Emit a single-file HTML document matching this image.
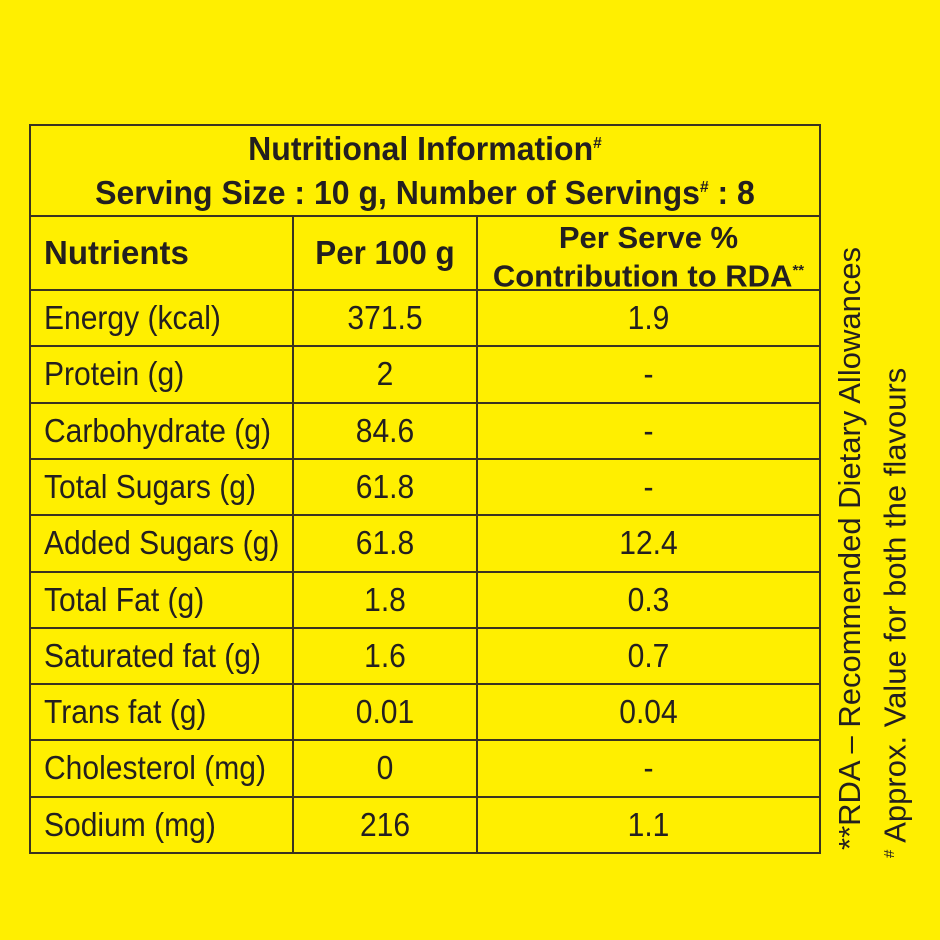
<!DOCTYPE html>
<html><head><meta charset="utf-8"><style>
body{margin:0;width:940px;height:940px;background:#FFEF00;overflow:hidden;font-family:"Liberation Sans Narrow","Liberation Sans",sans-serif;color:#231F20}
.t{position:absolute;white-space:nowrap}
.hl{position:absolute;height:2px;background:#3a3320}
.vl{position:absolute;width:2px;background:#3a3320}
</style></head><body>
<div id="tbl"></div>
<div class="t" style="left:30px;width:790px;top:124px;text-align:center;font-weight:bold;font-size:33px;line-height:39px;transform:scaleX(0.97)">Nutritional Information<sup style="font-size:16px">#</sup><br>Serving Size : 10 g, Number of Servings<sup style="font-size:16px">#</sup> : 8</div>
<div class="t" style="left:44px;top:234px;font-weight:bold;font-size:33px">Nutrients</div>
<div class="t" style="left:293px;width:184px;text-align:center;top:234px;font-weight:bold;font-size:33px;transform:scaleX(0.95)">Per 100 g</div>
<div class="t" style="left:477px;width:343px;text-align:center;top:221px;font-weight:bold;font-size:31px;line-height:33px">Per Serve %<br>Contribution to RDA<sup style="font-size:15px">**</sup></div>
<div class="t" style="left:832px;top:850px;font-size:31px;transform:rotate(-90deg);transform-origin:0 0;line-height:36px">**RDA – Recommended Dietary Allowances</div>
<div class="t" style="left:872px;top:858px;font-size:31px;transform:rotate(-90deg);transform-origin:0 0;line-height:36px"><sup style="font-size:15px">#</sup> Approx. Value for both the flavours</div>
<script>
const nutrients=["Energy (kcal)","Protein (g)","Carbohydrate (g)","Total Sugars (g)","Added Sugars (g)","Total Fat (g)","Saturated fat (g)","Trans fat (g)","Cholesterol (mg)","Sodium (mg)"];
const per100=["371.5","2","84.6","61.8","61.8","1.8","1.6","0.01","0","216"];
const perServe=["1.9","-","-","-","12.4","0.3","0.7","0.04","-","1.1"];
const b=document.body;
function line(cls,l,t,w,h,name){const d=document.createElement('div');d.className=cls;d.style.left=l+'px';d.style.top=t+'px';if(w)d.style.width=w+'px';if(h)d.style.height=h+'px';


b.appendChild(d);}
line('hl',30,124,791,0,'border-top');
line('hl',30,215,791,0,'border-header');
line('hl',30,289,791,0,'border-colhead');
line('vl',29,124,0,730,'border-left');
line('vl',819,124,0,730,'border-right');
line('vl',292,216,0,638,'divider-col1');
line('vl',476,216,0,638,'divider-col2');
const rh=56.3;
nutrients.forEach((n,i)=>{
 const top=290+i*rh;
 line('hl',30,Math.round(top+rh-1),791,0,'row-border');
 const a=document.createElement('div');a.className='t';a.style.left='44px';a.style.top=(top+9)+'px';a.style.fontSize='33px';a.style.transform='scaleX(0.91)';a.style.transformOrigin='0 0';a.textContent=n;
 
 
 b.appendChild(a);
 const c=document.createElement('div');c.className='t';c.style.left='293px';c.style.width='184px';c.style.textAlign='center';c.style.top=(top+9)+'px';c.style.fontSize='33px';c.style.transform='scaleX(0.91)';c.textContent=per100[i];
 
 
 b.appendChild(c);
 const d=document.createElement('div');d.className='t';d.style.left='477px';d.style.width='343px';d.style.textAlign='center';d.style.top=(top+9)+'px';d.style.fontSize='33px';d.style.transform='scaleX(0.91)';d.textContent=perServe[i];
 
 
 b.appendChild(d);
});
</script>
</body></html>
